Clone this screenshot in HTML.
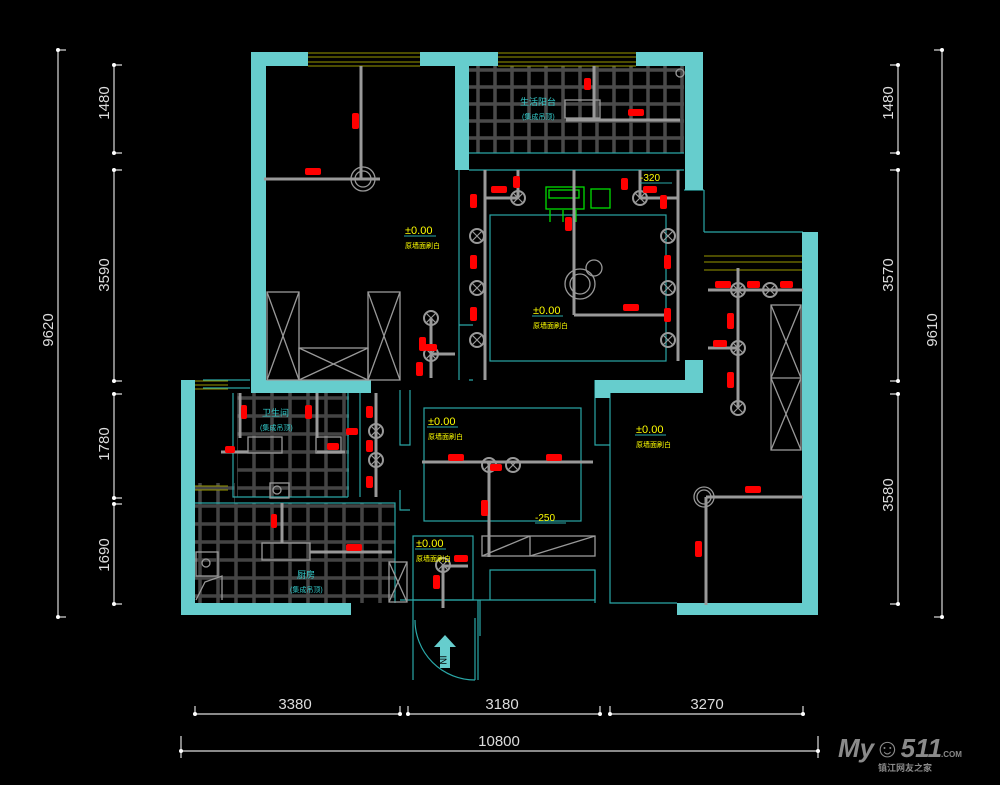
<!DOCTYPE html>
<html><head><meta charset="utf-8"><style>
html,body{margin:0;padding:0;background:#000;}
svg{display:block;}
text{font-family:"Liberation Sans","Noto Sans CJK SC",sans-serif;}
</style></head><body>
<svg width="1000" height="785" viewBox="0 0 1000 785" xmlns="http://www.w3.org/2000/svg">
<defs>
<pattern id="tile" width="17" height="17" patternUnits="userSpaceOnUse">
<path d="M0 2H17M2 0V17" stroke="#4a4a4a" stroke-width="3.5" fill="none"/>
</pattern>
<pattern id="tile2" width="18" height="18" patternUnits="userSpaceOnUse">
<path d="M0 2H18M2 0V18" stroke="#444" stroke-width="3.5" fill="none"/>
</pattern>
<g id="lamp"><circle r="7" fill="none" stroke="#999" stroke-width="2"/><path d="M-5 -5L5 5M5 -5L-5 5" stroke="#999" stroke-width="1.2"/></g>
</defs>
<rect width="1000" height="785" fill="#000"/>

<rect x="469" y="66" width="215" height="87" fill="url(#tile)"/>
<rect x="237" y="393" width="112" height="104" fill="url(#tile2)"/>
<rect x="195" y="503" width="200" height="100" fill="url(#tile2)"/>
<rect x="195" y="483" width="40" height="20" fill="url(#tile2)"/>

<g fill="none" stroke="#2aa7a7" stroke-width="1.2">
<rect x="490" y="215" width="176" height="146"/>
<rect x="424" y="408" width="157" height="113"/>
<rect x="413" y="536" width="60" height="64"/>
<path d="M469 153H684M469 170H684M459 170V325H473M459 325V380M469 380H473M610 393V603H677"/>
<path d="M704 232H803M704 190V232M684 190H704"/>
<path d="M233 393V497H348M348 393V497M400 390V445H410V390M360 390V497M400 490V510H410"/>
<path d="M195 503H395V603M400 600H595V570H490V600"/>
<path d="M480 600V636M595 570V603M595 380V445H610"/>
<path d="M413 600V680M478 600V680"/>
<path d="M203 380H250M203 388H250"/>
</g>
<path d="M415 620 A60 60 0 0 0 475 680" fill="none" stroke="#2aa7a7" stroke-width="1.2"/>
<line x1="475" y1="618" x2="475" y2="680" stroke="#2aa7a7" stroke-width="1.2"/>
<polygon points="445,635 434,647 440,647 440,668 450,668 450,647 456,647" fill="#66cdcd"/>
<text x="445" y="665" font-size="9" fill="#000" text-anchor="middle" transform="rotate(90 445 660)">IN</text>

<g stroke="#999900" stroke-width="1" fill="none">
<path d="M308 53H420M308 57H420M308 62H420M308 66H420"/>
<path d="M498 53H636M498 57H636M498 62H636M498 66H636"/>
<path d="M704 256H803M704 262H803M704 270H803"/>
<path d="M195 381H228M195 385H228M195 389H228"/>
<path d="M195 486H228M195 490H228"/>
</g>

<g fill="#66cdcd">
<rect x="251" y="52" width="57" height="14"/>
<rect x="420" y="52" width="78" height="14"/>
<rect x="636" y="52" width="67" height="14"/>
<rect x="251" y="52" width="15" height="341"/>
<rect x="251" y="380" width="120" height="13"/>
<rect x="455" y="52" width="14" height="118"/>
<rect x="685" y="52" width="18" height="138"/>
<rect x="685" y="360" width="18" height="33"/>
<rect x="595" y="380" width="108" height="13"/>
<rect x="595" y="380" width="15" height="18"/>
<rect x="802" y="232" width="16" height="383"/>
<rect x="677" y="603" width="141" height="12"/>
<rect x="181" y="380" width="14" height="235"/>
<rect x="181" y="603" width="170" height="12"/>
</g>

<g fill="none" stroke="#999" stroke-width="1.3">
<rect x="267" y="292" width="32" height="88"/><path d="M267 292L299 380M299 292L267 380"/>
<rect x="368" y="292" width="32" height="88"/><path d="M368 292L400 380M400 292L368 380"/>
<rect x="299" y="348" width="69" height="32"/><path d="M299 348L368 380M368 348L299 380"/>
<rect x="771" y="305" width="30" height="145"/><path d="M771 305L801 378M801 305L771 378M771 378L801 450M801 378L771 450M771 378H801"/>
<rect x="482" y="536" width="113" height="20"/><path d="M482 556L530 536M530 556L595 536M530 536V556"/>
<rect x="389" y="562" width="18" height="40"/><path d="M389 562L407 602M407 562L389 602"/>
<rect x="248" y="437" width="34" height="16"/><rect x="316" y="437" width="25" height="16"/>
<rect x="270" y="483" width="19" height="15"/><circle cx="277" cy="490" r="4"/>
<rect x="262" y="543" width="48" height="17"/>
<rect x="565" y="100" width="35" height="18"/>
<rect x="196" y="552" width="22" height="24"/><circle cx="206" cy="563" r="4"/>
<path d="M196 600L205 582L222 576V600"/>
<circle cx="680" cy="73" r="4"/>
<circle cx="580" cy="284" r="15"/><circle cx="580" cy="284" r="10"/><circle cx="594" cy="268" r="8"/>
<circle cx="363" cy="179" r="12"/><circle cx="363" cy="179" r="8"/>
<circle cx="704" cy="497" r="10"/><circle cx="704" cy="497" r="7"/>
</g>
<g fill="none" stroke="#00dd00" stroke-width="1.3">
<rect x="546" y="187" width="38" height="22"/><rect x="549" y="190" width="30" height="8"/>
<rect x="591" y="189" width="19" height="19"/>
<path d="M550 210V222M563 210V222M576 210V222"/>
</g>

<g stroke="#999" stroke-width="3" fill="none">
<path d="M361 66V179M264 179H380"/>
<path d="M594 66V120M594 120H680M566 120H594"/>
<path d="M485 170V380M486 198H518M518 170V198"/>
<path d="M574 170V315M574 315H670"/>
<path d="M640 170V198M640 198H678M678 170V361"/>
<path d="M431 318V378M431 354H455"/>
<path d="M738 268V408M708 290H803M708 348H738"/>
<path d="M240 393V438M221 452H248M317 393V438M317 452H345"/>
<path d="M376 393V497"/>
<path d="M422 462H593M489 462V557"/>
<path d="M282 503V543M310 552H392"/>
<path d="M443 565V608M443 566H468"/>
<path d="M706 497V605M706 497H803"/>
</g>
<g>
<use href="#lamp" x="518" y="198"/><use href="#lamp" x="640" y="198"/>
<use href="#lamp" x="477" y="236"/><use href="#lamp" x="477" y="288"/><use href="#lamp" x="477" y="340"/>
<use href="#lamp" x="668" y="236"/><use href="#lamp" x="668" y="288"/><use href="#lamp" x="668" y="340"/>
<use href="#lamp" x="431" y="318"/><use href="#lamp" x="431" y="354"/>
<use href="#lamp" x="738" y="290"/><use href="#lamp" x="770" y="290"/><use href="#lamp" x="738" y="348"/><use href="#lamp" x="738" y="408"/>
<use href="#lamp" x="376" y="431"/><use href="#lamp" x="376" y="460"/>
<use href="#lamp" x="489" y="465"/><use href="#lamp" x="513" y="465"/>
<use href="#lamp" x="443" y="565"/>
</g>

<g fill="#f00">
<rect x="352" y="113" width="7" height="16" rx="2"/><rect x="305" y="168" width="16" height="7" rx="2"/>
<rect x="584" y="78" width="7" height="12" rx="2"/><rect x="628" y="109" width="16" height="7" rx="2"/>
<rect x="491" y="186" width="16" height="7" rx="2"/><rect x="513" y="176" width="7" height="12" rx="2"/>
<rect x="470" y="194" width="7" height="14" rx="2"/><rect x="470" y="255" width="7" height="14" rx="2"/><rect x="470" y="307" width="7" height="14" rx="2"/>
<rect x="565" y="217" width="7" height="14" rx="2"/>
<rect x="621" y="178" width="7" height="12" rx="2"/><rect x="643" y="186" width="14" height="7" rx="2"/>
<rect x="660" y="195" width="7" height="14" rx="2"/><rect x="664" y="255" width="7" height="14" rx="2"/><rect x="664" y="308" width="7" height="14" rx="2"/>
<rect x="623" y="304" width="16" height="7" rx="2"/>
<rect x="419" y="337" width="7" height="14" rx="2"/><rect x="425" y="344" width="12" height="7" rx="2"/><rect x="416" y="362" width="7" height="14" rx="2"/>
<rect x="715" y="281" width="16" height="7" rx="2"/><rect x="747" y="281" width="13" height="7" rx="2"/><rect x="780" y="281" width="13" height="7" rx="2"/>
<rect x="727" y="313" width="7" height="16" rx="2"/><rect x="713" y="340" width="14" height="7" rx="2"/><rect x="727" y="372" width="7" height="16" rx="2"/>
<rect x="241" y="405" width="6" height="14" rx="2"/><rect x="305" y="405" width="7" height="14" rx="2"/>
<rect x="225" y="446" width="10" height="7" rx="2"/><rect x="327" y="443" width="12" height="7" rx="2"/>
<rect x="366" y="406" width="7" height="12" rx="2"/><rect x="366" y="440" width="7" height="12" rx="2"/><rect x="366" y="476" width="7" height="12" rx="2"/>
<rect x="346" y="428" width="12" height="7" rx="2"/>
<rect x="448" y="454" width="16" height="7" rx="2"/><rect x="490" y="464" width="12" height="7" rx="2"/><rect x="546" y="454" width="16" height="7" rx="2"/>
<rect x="481" y="500" width="7" height="16" rx="2"/>
<rect x="745" y="486" width="16" height="7" rx="2"/><rect x="695" y="541" width="7" height="16" rx="2"/>
<rect x="271" y="514" width="6" height="14" rx="2"/><rect x="346" y="544" width="16" height="7" rx="2"/>
<rect x="454" y="555" width="14" height="7" rx="2"/><rect x="433" y="575" width="7" height="14" rx="2"/>
</g>

<g font-size="11" fill="#ffff00">
<text x="405" y="234">±0.00</text><text x="533" y="314">±0.00</text><text x="428" y="425">±0.00</text>
<text x="636" y="433">±0.00</text><text x="416" y="547">±0.00</text>
<text x="640" y="181" font-size="10">-320</text><text x="535" y="521" font-size="10">-250</text>
</g>
<g font-size="7" fill="#ffff00">
<text x="405" y="248">原墙面刷白</text><text x="533" y="328">原墙面刷白</text><text x="428" y="439">原墙面刷白</text>
<text x="636" y="447">原墙面刷白</text><text x="416" y="561">原墙面刷白</text>
</g>
<g stroke="#2aa7a7" stroke-width="1"><path d="M404 236H436M532 316H563M427 427H458M635 435H666M415 549H446M640 183H672M535 523H566"/></g>
<g font-size="9" fill="#33cccc">
<text x="520" y="105">生活阳台</text><text x="522" y="119" font-size="7">(集成吊顶)</text>
<text x="262" y="416">卫生间</text><text x="260" y="430" font-size="7">(集成吊顶)</text>
<text x="297" y="578">厨房</text><text x="290" y="592" font-size="7">(集成吊顶)</text>
</g>

<g stroke="#ddd" stroke-width="1.2" fill="#fff">
<line x1="58" y1="50" x2="58" y2="617"/><line x1="58" y1="50" x2="66" y2="50"/><line x1="58" y1="617" x2="66" y2="617"/>
<line x1="114" y1="65" x2="114" y2="153"/><line x1="114" y1="170" x2="114" y2="381"/><line x1="114" y1="394" x2="114" y2="498"/><line x1="114" y1="504" x2="114" y2="604"/>
<path d="M114 65h8M114 153h8M114 170h8M114 381h8M114 394h8M114 498h8M114 504h8M114 604h8"/>
<line x1="942" y1="50" x2="942" y2="617"/><line x1="934" y1="50" x2="942" y2="50"/><line x1="934" y1="617" x2="942" y2="617"/>
<line x1="898" y1="65" x2="898" y2="153"/><line x1="898" y1="170" x2="898" y2="381"/><line x1="898" y1="394" x2="898" y2="604"/>
<path d="M890 65h8M890 153h8M890 170h8M890 381h8M890 394h8M890 604h8"/>
<line x1="195" y1="714" x2="400" y2="714"/><line x1="408" y1="714" x2="600" y2="714"/><line x1="610" y1="714" x2="803" y2="714"/>
<path d="M195 706v8M400 706v8M408 706v8M600 706v8M610 706v8M803 706v8"/>
<line x1="181" y1="751" x2="818" y2="751"/><path d="M181 736v22M818 736v22"/>
</g>
<g fill="#fff">
<circle cx="58" cy="50" r="2"/><circle cx="58" cy="617" r="2"/><circle cx="942" cy="50" r="2"/><circle cx="942" cy="617" r="2"/>
<circle cx="114" cy="65" r="2"/><circle cx="114" cy="153" r="2"/><circle cx="114" cy="170" r="2"/><circle cx="114" cy="381" r="2"/><circle cx="114" cy="394" r="2"/><circle cx="114" cy="498" r="2"/><circle cx="114" cy="504" r="2"/><circle cx="114" cy="604" r="2"/>
<circle cx="898" cy="65" r="2"/><circle cx="898" cy="153" r="2"/><circle cx="898" cy="170" r="2"/><circle cx="898" cy="381" r="2"/><circle cx="898" cy="394" r="2"/><circle cx="898" cy="604" r="2"/>
<circle cx="195" cy="714" r="2"/><circle cx="400" cy="714" r="2"/><circle cx="408" cy="714" r="2"/><circle cx="600" cy="714" r="2"/><circle cx="610" cy="714" r="2"/><circle cx="803" cy="714" r="2"/>
<circle cx="181" cy="751" r="2"/><circle cx="818" cy="751" r="2"/>
</g>
<g font-size="15" fill="#ddd" text-anchor="middle">
<text transform="translate(109 103) rotate(-90)">1480</text>
<text transform="translate(109 275) rotate(-90)">3590</text>
<text transform="translate(109 444) rotate(-90)">1780</text>
<text transform="translate(109 555) rotate(-90)">1690</text>
<text transform="translate(53 330) rotate(-90)">9620</text>
<text transform="translate(893 103) rotate(-90)">1480</text>
<text transform="translate(893 275) rotate(-90)">3570</text>
<text transform="translate(893 495) rotate(-90)">3580</text>
<text transform="translate(937 330) rotate(-90)">9610</text>
<text x="295" y="709">3380</text><text x="502" y="709">3180</text><text x="707" y="709">3270</text>
<text x="499" y="746">10800</text>
</g>
<text x="838" y="757" font-size="26" font-weight="bold" fill="#8a8a8a" font-style="italic">My☺511</text>
<text x="941" y="757" font-size="8" font-weight="bold" fill="#8a8a8a">.COM</text>
<text x="878" y="771" font-size="9" font-weight="bold" fill="#8a8a8a">镇江网友之家</text>
</svg>
</body></html>
